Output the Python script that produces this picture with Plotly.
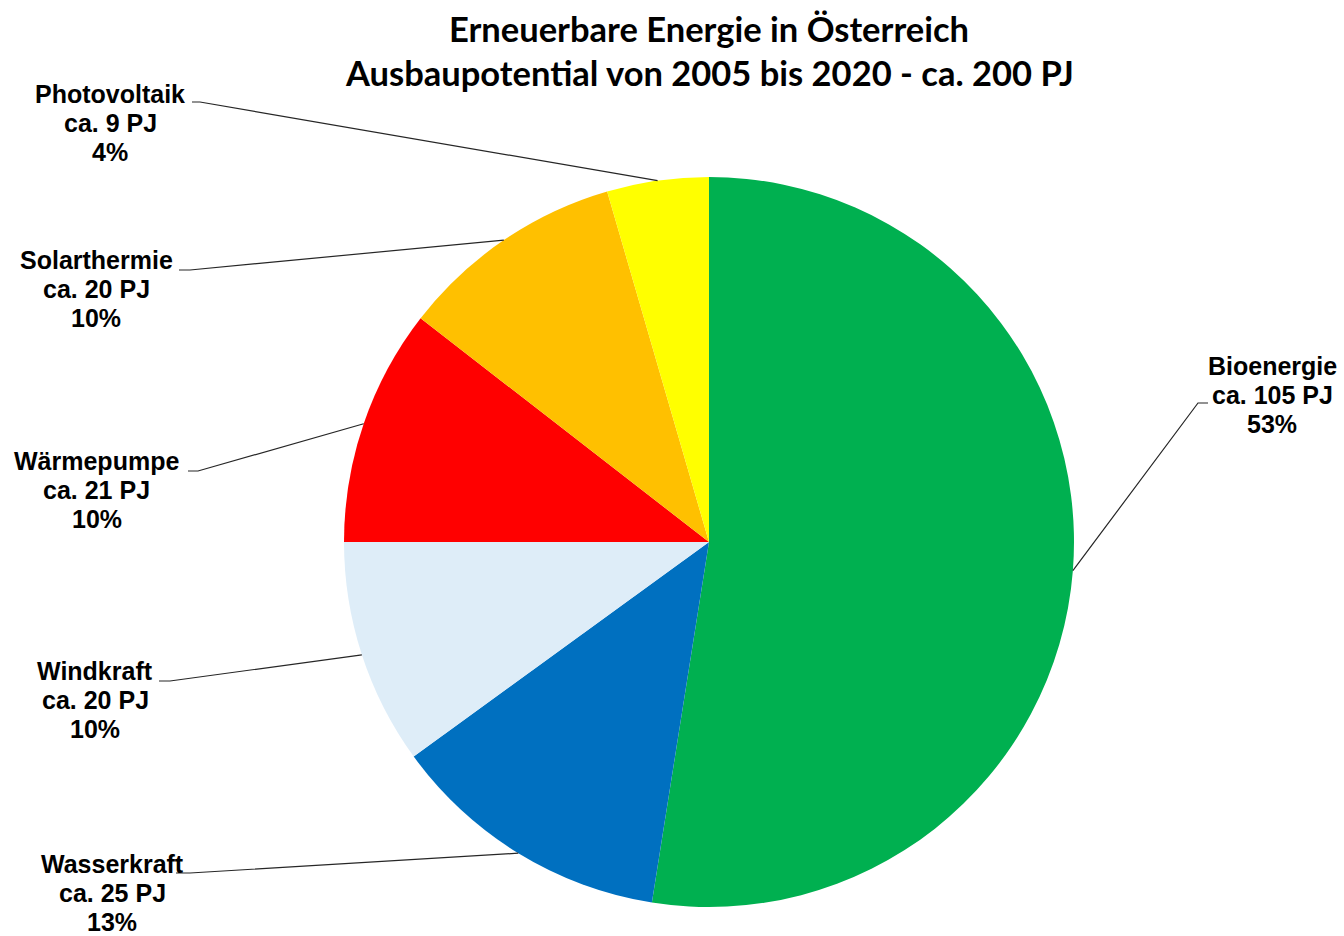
import math
import plotly.graph_objects as go

# ---- data ----
categories = ["Bioenergie", "Wasserkraft", "Windkraft", "Wärmepumpe", "Solarthermie", "Photovoltaik"]
values_pj = [105, 25, 20, 21, 20, 9]
pj_labels = ["ca. 105 PJ", "ca. 25 PJ", "ca. 20 PJ", "ca. 21 PJ", "ca. 20 PJ", "ca. 9 PJ"]
pct_labels = ["53%", "13%", "10%", "10%", "10%", "4%"]
colors = ["#00B050", "#0070C0", "#DEEDF8", "#FF0000", "#FFC000", "#FFFF00"]

title_lines = ["Erneuerbare Energie in Österreich",
               "Ausbaupotential von 2005 bis 2020 - ca. 200 PJ"]

# ---- layout constants (pixels) ----
W, H = 1344, 936
CX, CY, R = 709, 542, 365
LINE_GAP = 29

# label centre positions (middle line) and leader-line elbow (start, elbow) in pixels
label_pos = {
    "Bioenergie": (1272, 395),
    "Wasserkraft": (112, 893),
    "Windkraft": (95, 700),
    "Wärmepumpe": (97, 490),
    "Solarthermie": (96, 289),
    "Photovoltaik": (110, 123),
}
leader_elbow = {
    "Bioenergie": ((1208, 403), (1198, 403)),
    "Wasserkraft": ((176, 873), (190, 873)),
    "Windkraft": ((159, 681), (170, 681)),
    "Wärmepumpe": ((188, 471), (198, 471)),
    "Solarthermie": ((179, 270), (190, 270)),
    "Photovoltaik": ((192, 102), (200, 102)),
}


def px(x):
    return x / W


def py(y):
    return 1 - y / H


fig = go.Figure(go.Pie(
    labels=categories,
    values=values_pj,
    sort=False,
    direction="clockwise",
    rotation=0,
    marker=dict(colors=colors, line=dict(width=0)),
    textinfo="none",
    hoverinfo="label+value+percent",
    showlegend=False,
    domain=dict(x=[px(CX - R), px(CX + R)], y=[py(CY + R), py(CY - R)]),
))

label_font = dict(family="Liberation Sans, Arial, sans-serif", size=25, color="#000000")

total = sum(values_pj)
annotations = []
shapes = []
cum = 0.0
for cat, v, pj, pct in zip(categories, values_pj, pj_labels, pct_labels):
    mid = (cum + v / 2) / total * 360.0
    cum += v
    ex = CX + R * math.sin(math.radians(mid))
    ey = CY - R * math.cos(math.radians(mid))
    (sx, sy), (kx, ky) = leader_elbow[cat]
    path = f"M {px(sx)},{py(sy)} L {px(kx)},{py(ky)} L {px(ex)},{py(ey)}"
    shapes.append(dict(type="path", xref="paper", yref="paper", path=path,
                       line=dict(color="#262626", width=1.2)))
    lx, ly = label_pos[cat]
    for k, line in enumerate([cat, pj, pct]):
        annotations.append(dict(
            x=px(lx), y=py(ly + (k - 1) * LINE_GAP), xref="paper", yref="paper",
            xanchor="center", yanchor="middle", align="center",
            text=f"<b>{line}</b>", showarrow=False, font=label_font,
        ))

for t, yy in zip(title_lines, [28, 73]):
    annotations.append(dict(
        x=px(709), y=py(yy), xref="paper", yref="paper",
        xanchor="center", yanchor="middle", text=f"<b>{t}</b>", showarrow=False,
        font=dict(family="Lato, sans-serif", size=34.5, color="#000000"),
    ))

fig.update_layout(
    width=W, height=H,
    margin=dict(l=0, r=0, t=0, b=0),
    paper_bgcolor="white", plot_bgcolor="white",
    annotations=annotations, shapes=shapes,
)

fig.write_html(
    "out.html",
    config={"displayModeBar": False},
    post_script="document.body.style.margin='0';document.body.style.overflow='hidden';",
)
